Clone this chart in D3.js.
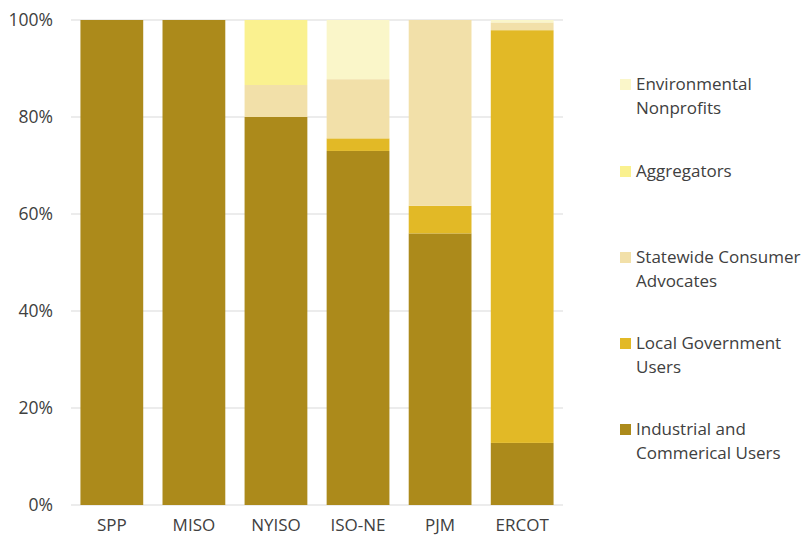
<!DOCTYPE html>
<html><head><meta charset="utf-8">
<script src="https://cdn.jsdelivr.net/npm/d3@7"></script>
<style>body{margin:0;background:#fff;} text{font-family:"Open Sans",sans-serif;}</style>
</head><body>
<svg id="c" width="807" height="539"></svg>
<script>
const categories = ["SPP","MISO","NYISO","ISO-NE","PJM","ERCOT"];
const seriesNames = ["Industrial and Commerical Users","Local Government Users","Statewide Consumer Advocates","Aggregators","Environmental Nonprofits"];
const industrial = [100, 100, 80.0, 73.0, 56.0, 12.8];
const localGov   = [0, 0, 0, 2.6, 5.7, 85.1];
const statewide  = [0, 0, 6.6, 12.2, 38.3, 1.6];
const aggregators= [0, 0, 13.4, 0, 0, 0];
const envNonprof = [0, 0, 0, 12.2, 0, 0.5];
const colors = ["#AC8A1B","#E2B926","#F2E0A9","#FAF18F","#FAF6C9"];
const yTicks = [0,20,40,60,80,100];
const legendLines = [["Environmental","Nonprofits"],["Aggregators"],["Statewide Consumer","Advocates"],["Local Government","Users"],["Industrial and","Commerical Users"]];
const legendY = [84, 171, 257, 343, 429];

(function(){
const svg = d3.select("#c");
const pl = 71, pr = 563, pt = 20, pb = 505;
const x = d3.scaleBand().domain(categories).range([pl, pr]).paddingInner(0.235).paddingOuter(0.115);
const y = d3.scaleLinear().domain([0,100]).range([pb, pt]);

svg.append("g").selectAll("line").data(yTicks).join("line")
  .attr("x1", pl).attr("x2", pr)
  .attr("y1", d=>y(d)).attr("y2", d=>y(d))
  .attr("stroke", "#d9d9d9").attr("stroke-width", 1);

const rows = categories.map((c,i)=>({cat:c, s0:industrial[i], s1:localGov[i], s2:statewide[i], s3:aggregators[i], s4:envNonprof[i]}));
const stack = d3.stack().keys(["s0","s1","s2","s3","s4"]);
const layers = stack(rows);
svg.append("g").selectAll("g").data(layers).join("g")
  .attr("fill", (d,i)=>colors[i])
  .selectAll("rect").data(d=>d).join("rect")
  .attr("x", d=>x(d.data.cat)).attr("width", x.bandwidth())
  .attr("y", d=>y(d[1])).attr("height", d=>y(d[0])-y(d[1]));

const yAxis = d3.axisLeft(y).tickValues(yTicks).tickFormat(d=>d+"%").tickSize(0).tickPadding(0);
const ya = svg.append("g").attr("transform", `translate(${pl-18},0)`).call(yAxis);
ya.select(".domain").remove();
ya.selectAll("text").attr("font-size", 17.5).attr("fill", "#404040").attr("font-family","Open Sans, sans-serif");

const xAxis = d3.axisBottom(x).tickSize(0).tickPadding(0);
const xa = svg.append("g").attr("transform", `translate(0,${pb+14})`).call(xAxis);
xa.select(".domain").remove();
xa.selectAll("text").attr("font-size", 17).attr("fill", "#404040").attr("font-family","Open Sans, sans-serif");

const lg = svg.append("g");
const legendColorIdx = [4,3,2,1,0];
legendLines.forEach((lines,i)=>{
  const yy = legendY[i];
  lg.append("rect").attr("x",620).attr("y",yy-5).attr("width",11).attr("height",11).attr("fill",colors[legendColorIdx[i]]);
  lines.forEach((t,j)=>{
    lg.append("text").attr("x",636).attr("y",yy+24.5*j).attr("dy","0.35em")
      .attr("font-size",17).attr("fill","#404040").text(t);
  });
});
})();
</script>
</body></html>
